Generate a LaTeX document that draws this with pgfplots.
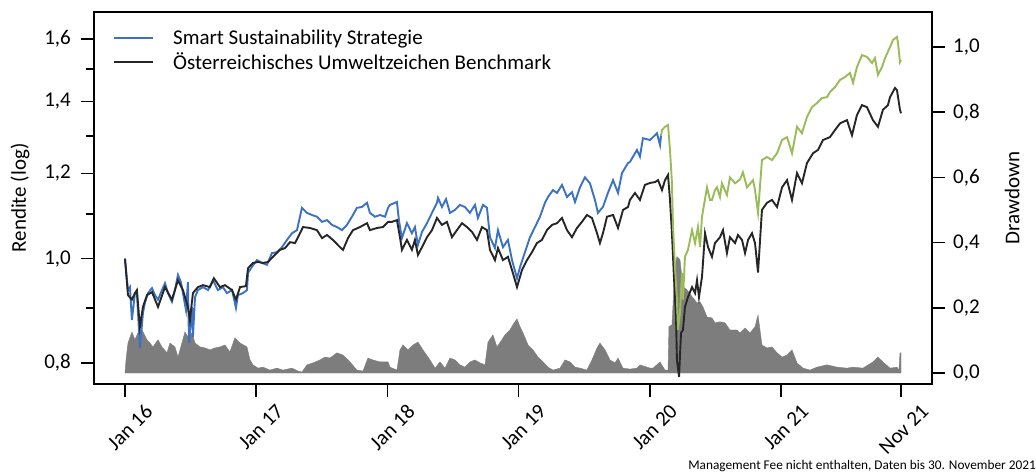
\documentclass[border=0pt]{standalone}
\usepackage{fontspec}
\setmainfont{Carlito}
\usepackage{pgfplots}
\pgfplotsset{compat=1.18}
\usepackage{pgfplotstable}
\definecolor{sblue}{RGB}{59,114,196}
\definecolor{sgreen}{RGB}{155,187,89}
\definecolor{bdark}{RGB}{38,38,38}
\definecolor{ddgray}{RGB}{125,125,125}

\pgfplotstableread{
x y
2016.000 1.000
2016.023 0.935
2016.038 0.941
2016.053 0.877
2016.076 0.929
2016.091 0.931
2016.114 0.826
2016.137 0.890
2016.152 0.910
2016.175 0.929
2016.206 0.939
2016.229 0.925
2016.252 0.916
2016.282 0.935
2016.305 0.949
2016.328 0.929
2016.358 0.912
2016.381 0.935
2016.404 0.966
2016.427 0.951
2016.442 0.929
2016.465 0.896
2016.480 0.951
2016.488 0.835
2016.511 0.902
2016.518 0.846
2016.534 0.921
2016.556 0.935
2016.595 0.941
2016.633 0.935
2016.671 0.955
2016.709 0.935
2016.747 0.941
2016.777 0.929
2016.816 0.935
2016.846 0.900
2016.861 0.925
2016.899 0.929
2016.930 0.935
2016.938 0.970
2016.968 0.983
2017.006 0.997
2017.044 0.991
2017.082 0.987
2017.120 1.012
2017.158 1.014
2017.197 1.025
2017.235 1.041
2017.273 1.056
2017.311 1.063
2017.349 1.115
2017.387 1.103
2017.425 1.098
2017.463 1.094
2017.502 1.082
2017.540 1.086
2017.578 1.075
2017.616 1.070
2017.654 1.063
2017.692 1.075
2017.730 1.094
2017.768 1.115
2017.806 1.117
2017.845 1.127
2017.867 1.103
2017.905 1.094
2017.944 1.098
2017.982 1.094
2018.005 1.115
2018.020 1.122
2018.073 1.129
2018.088 1.086
2018.111 1.045
2018.149 1.079
2018.187 1.056
2018.210 1.070
2018.233 1.030
2018.264 1.059
2018.302 1.079
2018.340 1.103
2018.378 1.127
2018.386 1.139
2018.416 1.117
2018.447 1.136
2018.477 1.103
2018.515 1.110
2018.553 1.122
2018.591 1.117
2018.629 1.103
2018.668 1.122
2018.690 1.091
2018.729 1.122
2018.759 1.115
2018.782 1.047
2018.820 1.023
2018.843 1.063
2018.881 1.025
2018.919 1.041
2018.950 0.997
2018.988 0.959
2019.011 0.982
2019.049 1.014
2019.087 1.047
2019.125 1.070
2019.163 1.094
2019.201 1.127
2019.224 1.141
2019.262 1.158
2019.293 1.151
2019.331 1.171
2019.369 1.141
2019.407 1.153
2019.430 1.129
2019.468 1.165
2019.506 1.190
2019.544 1.175
2019.582 1.134
2019.605 1.103
2019.643 1.117
2019.681 1.151
2019.720 1.183
2019.758 1.151
2019.788 1.201
2019.834 1.227
2019.849 1.230
2019.902 1.262
2019.925 1.244
2019.948 1.294
2020.002 1.289
2020.055 1.308
2020.078 1.275
2020.086 1.302
}\stratA

\pgfplotstableread{
x y
2020.086 1.302
2020.093 1.317
2020.116 1.326
2020.139 1.331
2020.154 1.262
2020.169 1.176
2020.177 1.070
2020.192 0.983
2020.207 0.916
2020.215 0.859
2020.230 0.890
2020.245 0.970
2020.253 0.916
2020.268 1.004
2020.291 1.019
2020.322 1.063
2020.345 1.034
2020.367 1.070
2020.383 1.025
2020.398 1.094
2020.436 1.165
2020.459 1.134
2020.474 1.134
2020.497 1.158
2020.512 1.165
2020.535 1.141
2020.550 1.175
2020.588 1.146
2020.611 1.190
2020.650 1.175
2020.688 1.185
2020.710 1.203
2020.741 1.165
2020.787 1.183
2020.802 1.158
2020.825 1.103
2020.855 1.235
2020.893 1.243
2020.931 1.235
2020.970 1.253
2021.008 1.289
2021.046 1.297
2021.084 1.253
2021.122 1.326
2021.160 1.308
2021.198 1.354
2021.236 1.383
2021.274 1.395
2021.312 1.410
2021.351 1.413
2021.373 1.428
2021.412 1.444
2021.450 1.466
2021.488 1.475
2021.526 1.488
2021.549 1.457
2021.579 1.507
2021.617 1.546
2021.655 1.540
2021.694 1.520
2021.716 1.536
2021.739 1.482
2021.770 1.507
2021.793 1.536
2021.831 1.573
2021.854 1.597
2021.884 1.607
2021.892 1.587
2021.907 1.523
2021.915 1.530
}\stratB

\pgfplotstableread{
x y
2016.000 1.000
2016.023 0.925
2016.053 0.916
2016.076 0.929
2016.091 0.935
2016.114 0.864
2016.137 0.902
2016.168 0.925
2016.206 0.931
2016.252 0.902
2016.305 0.941
2016.358 0.916
2016.404 0.955
2016.442 0.935
2016.480 0.902
2016.495 0.877
2016.518 0.929
2016.556 0.941
2016.595 0.945
2016.648 0.941
2016.678 0.959
2016.724 0.941
2016.762 0.945
2016.816 0.935
2016.846 0.916
2016.877 0.941
2016.922 0.943
2016.938 0.980
2016.976 0.991
2017.014 0.993
2017.052 0.991
2017.090 0.993
2017.128 1.004
2017.181 1.019
2017.220 1.023
2017.258 1.036
2017.296 1.034
2017.319 1.047
2017.357 1.070
2017.410 1.068
2017.463 1.063
2017.502 1.045
2017.540 1.052
2017.585 1.041
2017.639 1.025
2017.662 1.019
2017.700 1.045
2017.738 1.063
2017.791 1.070
2017.845 1.079
2017.867 1.063
2017.921 1.068
2017.966 1.070
2018.005 1.082
2018.035 1.082
2018.073 1.086
2018.096 1.047
2018.111 1.019
2018.149 1.041
2018.187 1.019
2018.210 1.041
2018.233 1.008
2018.264 1.025
2018.302 1.047
2018.340 1.063
2018.378 1.091
2018.416 1.075
2018.454 1.082
2018.492 1.047
2018.530 1.063
2018.569 1.079
2018.607 1.070
2018.645 1.059
2018.683 1.041
2018.721 1.070
2018.759 1.063
2018.782 1.019
2018.820 0.997
2018.843 1.023
2018.881 0.997
2018.919 1.004
2018.950 0.976
2018.988 0.941
2019.026 0.976
2019.064 0.997
2019.102 1.014
2019.140 1.034
2019.178 1.041
2019.216 1.063
2019.255 1.075
2019.293 1.079
2019.331 1.091
2019.369 1.063
2019.407 1.047
2019.445 1.068
2019.483 1.082
2019.521 1.098
2019.559 1.091
2019.598 1.056
2019.620 1.034
2019.643 1.056
2019.674 1.094
2019.720 1.098
2019.758 1.068
2019.796 1.110
2019.834 1.117
2019.849 1.134
2019.887 1.151
2019.925 1.134
2019.963 1.171
2020.002 1.176
2020.040 1.178
2020.063 1.183
2020.093 1.158
2020.116 1.183
2020.139 1.196
2020.154 1.134
2020.169 1.056
2020.184 0.962
2020.200 0.882
2020.207 0.805
2020.223 0.777
2020.238 0.853
2020.253 0.859
2020.268 0.902
2020.291 0.921
2020.322 0.941
2020.345 0.929
2020.360 0.955
2020.375 0.921
2020.398 0.962
2020.421 1.056
2020.444 1.025
2020.474 1.004
2020.497 1.034
2020.535 1.047
2020.558 1.063
2020.588 1.012
2020.611 1.047
2020.650 1.034
2020.672 1.052
2020.703 1.041
2020.726 1.012
2020.749 1.041
2020.779 1.056
2020.802 1.034
2020.825 0.971
2020.855 1.110
2020.893 1.127
2020.931 1.134
2020.970 1.117
2021.008 1.165
2021.046 1.183
2021.084 1.134
2021.122 1.201
2021.160 1.175
2021.198 1.227
2021.244 1.253
2021.282 1.262
2021.320 1.289
2021.373 1.297
2021.412 1.317
2021.450 1.336
2021.503 1.345
2021.541 1.302
2021.579 1.360
2021.617 1.389
2021.655 1.383
2021.701 1.345
2021.739 1.326
2021.777 1.375
2021.815 1.389
2021.831 1.413
2021.869 1.441
2021.884 1.434
2021.907 1.375
2021.915 1.365
}\bench

\pgfplotstableread{
x y
2016.000 0.000
2016.008 0.040
2016.023 0.092
2016.053 0.126
2016.076 0.102
2016.099 0.123
2016.130 0.132
2016.168 0.102
2016.191 0.092
2016.213 0.080
2016.252 0.102
2016.282 0.080
2016.320 0.062
2016.343 0.092
2016.381 0.080
2016.404 0.049
2016.434 0.092
2016.457 0.126
2016.480 0.111
2016.511 0.123
2016.534 0.092
2016.572 0.080
2016.610 0.077
2016.648 0.071
2016.686 0.077
2016.724 0.080
2016.762 0.086
2016.800 0.065
2016.838 0.108
2016.877 0.092
2016.930 0.080
2016.953 0.040
2016.976 0.025
2017.014 0.015
2017.052 0.018
2017.105 0.009
2017.158 0.015
2017.204 0.009
2017.273 0.015
2017.319 0.006
2017.349 0.003
2017.387 0.025
2017.433 0.031
2017.486 0.040
2017.524 0.049
2017.562 0.046
2017.616 0.062
2017.662 0.055
2017.715 0.034
2017.768 0.009
2017.814 0.006
2017.852 0.046
2017.890 0.040
2017.944 0.034
2018.005 0.034
2018.020 0.018
2018.073 0.009
2018.096 0.071
2018.119 0.086
2018.157 0.071
2018.195 0.086
2018.233 0.095
2018.271 0.071
2018.325 0.040
2018.363 0.015
2018.401 0.034
2018.439 0.015
2018.477 0.046
2018.515 0.040
2018.553 0.025
2018.591 0.018
2018.629 0.034
2018.668 0.040
2018.706 0.031
2018.744 0.025
2018.767 0.095
2018.805 0.117
2018.835 0.080
2018.873 0.102
2018.896 0.117
2018.934 0.132
2018.957 0.148
2018.988 0.166
2019.011 0.142
2019.034 0.123
2019.072 0.086
2019.110 0.071
2019.148 0.049
2019.186 0.034
2019.224 0.018
2019.262 0.009
2019.316 0.015
2019.354 0.040
2019.392 0.034
2019.430 0.018
2019.468 0.015
2019.521 0.009
2019.559 0.040
2019.598 0.077
2019.620 0.092
2019.659 0.071
2019.697 0.040
2019.735 0.031
2019.758 0.046
2019.796 0.015
2019.849 0.012
2019.902 0.015
2019.925 0.025
2019.979 0.018
2020.002 0.015
2020.025 0.015
2020.078 0.034
2020.116 0.009
2020.139 0.009
2020.146 0.142
2020.169 0.148
2020.192 0.326
2020.207 0.357
2020.230 0.348
2020.253 0.265
2020.284 0.255
2020.322 0.234
2020.360 0.215
2020.383 0.218
2020.405 0.203
2020.436 0.172
2020.474 0.169
2020.497 0.154
2020.535 0.157
2020.573 0.154
2020.611 0.132
2020.665 0.132
2020.688 0.123
2020.726 0.138
2020.764 0.123
2020.802 0.142
2020.825 0.178
2020.855 0.086
2020.893 0.077
2020.931 0.080
2020.970 0.062
2021.008 0.049
2021.046 0.055
2021.084 0.071
2021.122 0.031
2021.168 0.015
2021.221 0.009
2021.274 0.018
2021.351 0.025
2021.427 0.018
2021.503 0.015
2021.549 0.018
2021.625 0.015
2021.701 0.034
2021.739 0.049
2021.777 0.034
2021.831 0.015
2021.884 0.018
2021.899 0.009
2021.907 0.062
2021.915 0.062
}\drawdown

\newcommand{\bigf}{\fontsize{21}{25}\selectfont}

\begin{document}
\begin{tikzpicture}
\path[use as bounding box] (0,0) rectangle (1036pt,472pt);
\pgfplotsset{
  common/.style={
    at={(94pt,88pt)}, anchor=south west, scale only axis,
    width=838pt, height=372pt,
    xmin=2015.764, xmax=2022.151,
    tick align=outside,
    major tick length=13pt, minor tick length=8pt,
    every tick/.style={black, line width=1.5pt},
    axis line style={line width=1.6pt},
    tick label style={font=\bigf},
    label style={font=\bigf},
  }
}
\begin{axis}[common,
  ymin=-0.0337, ymax=1.1074,
  axis x line=none,
  axis y line*=right,
  ytick={0,0.2,0.4,0.6,0.8,1.0},
  yticklabels={{0,0},{0,2},{0,4},{0,6},{0,8},{1,0}},
  yticklabel style={anchor=west, inner sep=0pt, xshift=8pt},
  ylabel={Drawdown},
  ylabel style={at={(axis description cs:1.0955,0.5)}, anchor=center},
]
\addplot[fill=ddgray, draw=ddgray, line width=0.4pt] table[x=x,y=y] {\drawdown} \closedcycle;
\end{axis}
\begin{axis}[common,
  ymode=log, ymin=0.7649, ymax=1.6952,
  ytick pos=left, xtick pos=bottom,
  ytick={0.8,1.0,1.2,1.4,1.6},
  yticklabels={{0,8},{1,0},{1,2},{1,4},{1,6}},
  minor ytick={0.9,1.1,1.3,1.5},
  yticklabel style={anchor=east, inner sep=0pt, xshift=-10pt},
  xtick={2016,2017,2018,2019,2020,2021,2021.915},
  xticklabels={Jan 16,Jan 17,Jan 18,Jan 19,Jan 20,Jan 21,Nov 21},
  xticklabel style={xshift=24pt, yshift=-11pt, rotate=45, anchor=east, inner sep=0pt},
  ylabel={Rendite (log)},
  ylabel style={at={(axis description cs:-0.0883,0.5)}, anchor=center},
  legend style={at={(axis description cs:0.0227,1)}, anchor=north west, yshift=-18pt,
    draw=none, fill=none, inner sep=0pt, font=\bigf, column sep=19pt, row sep=6.5pt,
    nodes={inner sep=0pt}},
  legend cell align=left,
  legend image code/.code={\draw[#1] (0pt,0pt) -- (39pt,0pt);},
]
\addplot[color=sblue, line width=1.9pt] table[x=x,y=y] {\stratA};
\addlegendentry{Smart Sustainability Strategie}
\addplot[color=bdark, line width=1.9pt] table[x=x,y=y] {\bench};
\addlegendentry{Österreichisches Umweltzeichen Benchmark}
\addplot[color=sgreen, line width=1.9pt, forget plot] table[x=x,y=y] {\stratB};
\end{axis}
\node[anchor=base east, inner sep=0pt, font=\fontsize{13.3}{16}\selectfont] at (1036pt,3pt) {Management Fee nicht enthalten, Daten bis 30. November 2021};
\end{tikzpicture}
\end{document}
